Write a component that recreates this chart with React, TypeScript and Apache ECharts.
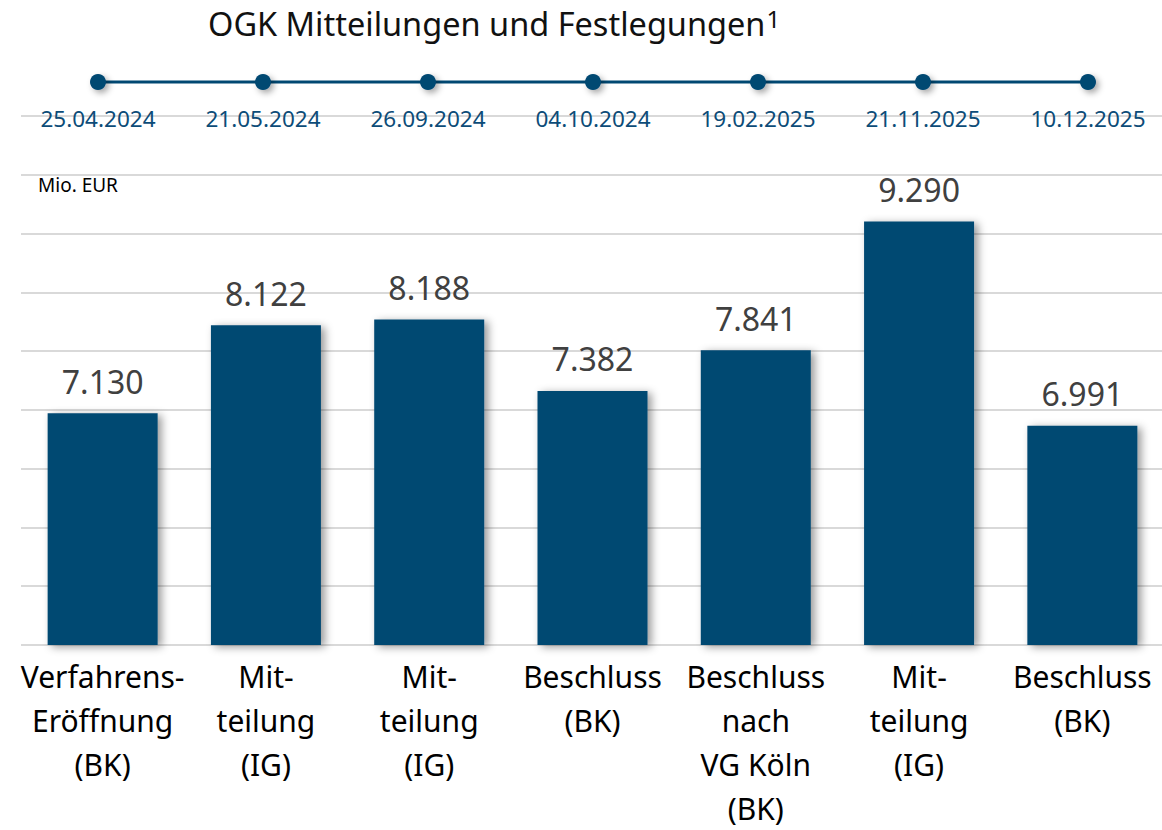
import React, { useEffect, useRef } from "react";
import * as echarts from "echarts";

const categories = [
  "Verfahrens-\nEröffnung\n(BK)",
  "Mit-\nteilung\n(IG)",
  "Mit-\nteilung\n(IG)",
  "Beschluss\n(BK)",
  "Beschluss\nnach\nVG Köln\n(BK)",
  "Mit-\nteilung\n(IG)",
  "Beschluss\n(BK)",
];
const values = [7130, 8122, 8188, 7382, 7841, 9290, 6991];
const dates = [
  "25.04.2024",
  "21.05.2024",
  "26.09.2024",
  "04.10.2024",
  "19.02.2025",
  "21.11.2025",
  "10.12.2025",
];
const timelineValues = [0, 0, 0, 0, 0, 0, 0];
const gridSteps = [0, 9];
const valueRange = [4520, 10480];

const NAVY = "#004872";
const FONT = "'Noto Sans', 'Open Sans', sans-serif";

function fmt(v: number): string {
  const s = String(Math.round(v));
  return s.replace(/\B(?=(\d{3})+(?!\d))/g, ".");
}

export default function App() {
  const ref = useRef<HTMLDivElement>(null);
  useEffect(() => {
    document.body.style.margin = "0";
    const chart = echarts.init(ref.current!, undefined, { renderer: "svg" });
    chart.setOption({
      animation: false,
      backgroundColor: "#ffffff",
      textStyle: { fontFamily: FONT },
      graphic: [
        {
          type: "text",
          left: 208,
          top: 2,
          style: {
            text: "{t|OGK Mitteilungen und Festlegungen}{s|1}",
            rich: {
              t: { fontSize: 32.5, fontFamily: FONT, fill: "#111111", lineHeight: 42 },
              s: {
                fontSize: 24,
                fontFamily: FONT,
                fill: "#111111",
                verticalAlign: "top",
                lineHeight: 24,
                padding: [4, 0, 0, 1],
              },
            },
          },
        },
        {
          type: "text",
          left: 38,
          top: 175,
          style: { text: "Mio. EUR", fontSize: 19, fontFamily: FONT, fill: "#000000" },
        },
      ],
      grid: [
        { left: 21, top: 116, width: 1143, height: 529, outerBoundsMode: "none", containLabel: false },
        { left: 15.5, top: 62, width: 1155, height: 40, outerBoundsMode: "none", containLabel: false },
      ],
      xAxis: [
        {
          type: "category",
          gridIndex: 0,
          data: categories,
          axisLine: { show: false },
          axisTick: { show: false },
          axisLabel: {
            interval: 0,
            fontSize: 30,
            lineHeight: 44,
            color: "#000000",
            fontFamily: FONT,
            margin: 9,
          },
        },
        {
          type: "category",
          gridIndex: 1,
          data: dates,
          axisLine: { show: false },
          axisTick: { show: false },
          axisLabel: {
            interval: 0,
            fontSize: 22.5,
            color: "#0d4c78",
            fontFamily: FONT,
            margin: 5,
          },
        },
      ],
      yAxis: [
        {
          type: "value",
          gridIndex: 0,
          min: valueRange[0],
          max: valueRange[1],
          show: false,
          splitLine: { show: false },
        },
        {
          type: "value",
          gridIndex: 0,
          min: gridSteps[0],
          max: gridSteps[1],
          interval: 1,
          position: "left",
          axisLine: { show: false },
          axisTick: { show: false },
          axisLabel: { show: false },
          splitLine: { show: true, lineStyle: { color: "#d9d9d9", width: 2 } },
        },
        {
          type: "value",
          gridIndex: 1,
          min: -1,
          max: 1,
          show: false,
          splitLine: { show: false },
        },
      ],
      series: [
        {
          type: "bar",
          xAxisIndex: 0,
          yAxisIndex: 0,
          data: values,
          barWidth: 110,
          itemStyle: {
            color: NAVY,
            shadowBlur: 8,
            shadowColor: "rgba(0,0,0,0.4)",
            shadowOffsetX: 4,
            shadowOffsetY: 2,
          },
          label: {
            show: true,
            position: "top",
            distance: 16,
            fontSize: 32,
            lineHeight: 32,
            color: "#404040",
            fontFamily: FONT,
            formatter: (p: any) => fmt(p.value),
          },
        },
        {
          type: "line",
          xAxisIndex: 1,
          yAxisIndex: 2,
          data: timelineValues,
          symbol: "circle",
          symbolSize: 16,
          lineStyle: {
            color: NAVY,
            width: 3,
          },
          itemStyle: {
            color: NAVY,
            shadowBlur: 6,
            shadowColor: "rgba(0,0,0,0.35)",
            shadowOffsetX: 3,
            shadowOffsetY: 3,
          },
        },
      ],
    });
    return () => chart.dispose();
  }, []);
  return (
    <div
      ref={ref}
      style={{ position: "fixed", left: 0, top: 0, width: 1162, height: 830 }}
    />
  );
}
